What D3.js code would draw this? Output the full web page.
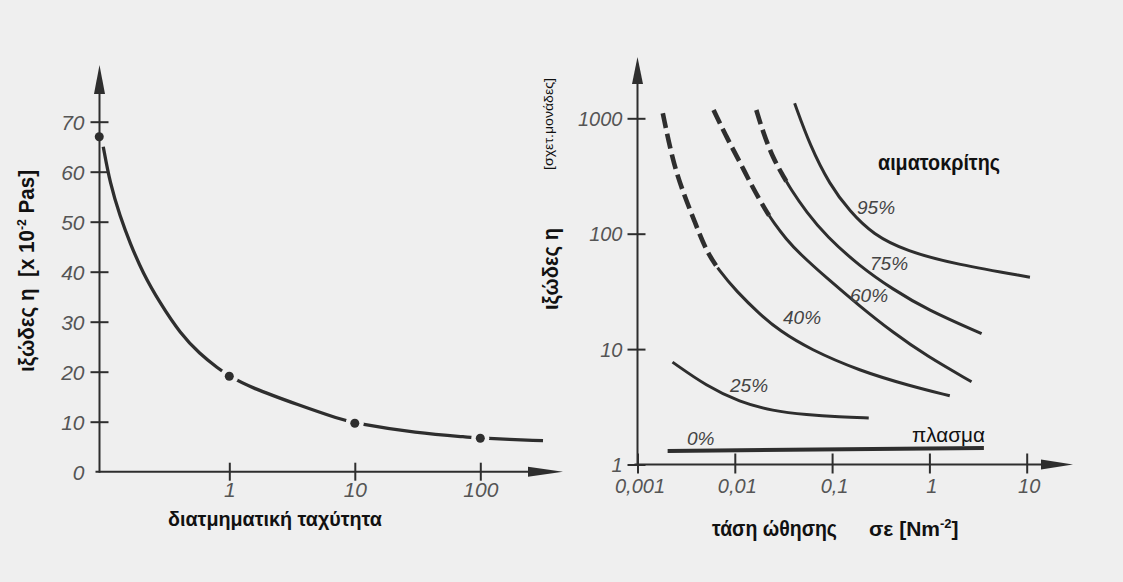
<!DOCTYPE html>
<html><head><meta charset="utf-8">
<script src="https://cdn.jsdelivr.net/npm/d3@7"></script>
<style>
body{margin:0;background:#efefef;}
svg{display:block;}
</style>
</head><body>
<svg id="c" width="1123" height="582"></svg>
<script>
// ---------------- DATA ----------------
// Left chart: viscosity vs shear rate
const leftXTicks = [1, 10, 100];
const leftYTicks = [0, 10, 20, 30, 40, 50, 60, 70];
const leftCurve = [[0.099,65.0],[0.112,57.7],[0.135,51.0],[0.162,45.7],[0.205,39.7],[0.281,33.7],[0.405,27.7],[0.584,23.5],[0.813,20.7],[1,19.1],[1.46,16.9],[3.6,13.3],[7.6,10.5],[10,9.7],[31,7.7],[83,6.9],[100,6.7],[316,6.2]];
const leftDots = [[0.092,67.0],[1,19.1],[10,9.7],[100,6.7]];

// Right chart: viscosity vs shear stress for several hematocrit values
const rightXTicks = [0.001, 0.01, 0.1, 1, 10];
const rightXLabels = ["0,001", "0,01", "0,1", "1", "10"];
const rightYTicks = [1, 10, 100, 1000];
const h0  = [[0.00204,1.31],[3.63,1.39]];
const h25 = [[0.00229,7.71],[0.00513,4.78],[0.0112,3.48],[0.0245,2.91],[0.0548,2.69],[0.120,2.58],[0.238,2.53]];
const h40 = [[0.00182,1104],[0.00231,422],[0.00292,232],[0.00386,128],[0.00509,70.5],[0.00698,47.3],[0.01036,31.8],[0.0180,20.1],[0.0289,14.4],[0.0589,9.98],[0.192,6.48],[0.628,4.81],[1.62,3.94]];
const h60 = [[0.00605,1180],[0.00818,693],[0.0112,422],[0.01535,249],[0.0211,156],[0.0249,126],[0.0336,90],[0.0468,66.7],[0.0880,41.3],[0.192,23.6],[0.423,13.9],[0.934,8.73],[2.71,5.21]];
const h75 = [[0.01664,1180],[0.01945,766],[0.0247,451],[0.0315,316],[0.0369,249],[0.0544,154],[0.0874,95],[0.192,52.3],[0.423,32.9],[0.934,22.1],[3.44,13.6]];
const h95 = [[0.0412,1348],[0.0589,588],[0.0945,265],[0.152,156],[0.264,98.2],[0.581,70.5],[1.90,54.1],[10.8,42.0]];
const dashEnds = {h40: 0.00665, h60: 0.0225, h75: 0.0338};
const curveLabels = ["95%", "75%", "60%", "40%", "25%", "0%"];

// ---------------- DRAW ----------------
const svg = d3.select("#c");
const INK = "#2e2e2e";
const TICK_TXT = "#555";
const FONT = "'Liberation Sans', Arial, sans-serif";

svg.append("rect").attr("width",1123).attr("height",582).attr("fill","#efefef");

// ===== LEFT CHART =====
const xL = d3.scaleLog().domain([1,100]).range([229.3,480.3]);
const yL = d3.scaleLinear().domain([0,70]).range([471.7,121.7]);
const axL = 99.5;
const gL = svg.append("g");

gL.append("line").attr("x1",axL).attr("x2",axL).attr("y1",yL(0)+1).attr("y2",80)
  .attr("stroke",INK).attr("stroke-width",2);
gL.append("path").attr("d",`M${axL},65 L${axL-5.5},94 L${axL+5.5},94 Z`).attr("fill",INK);
gL.append("line").attr("x1",axL-4).attr("x2",545).attr("y1",yL(0)).attr("y2",yL(0))
  .attr("stroke",INK).attr("stroke-width",2);
gL.append("path").attr("d",`M563,${yL(0)} L528,${yL(0)-5} L528,${yL(0)+5} Z`).attr("fill",INK);

const yAxL = gL.append("g").attr("transform",`translate(${axL},0)`)
  .call(d3.axisLeft(yL).tickValues(leftYTicks).tickSize(9).tickPadding(6).tickFormat(d3.format("d")));
yAxL.select(".domain").remove();
yAxL.selectAll(".tick line").attr("x1",9).attr("stroke",INK).attr("stroke-width",2)
  .attr("opacity",d=>d===0?0:1);
yAxL.selectAll(".tick text").attr("font-family",FONT).attr("font-style","italic")
  .attr("font-size",21).attr("fill",TICK_TXT).attr("dy","0.35em");

const xAxL = gL.append("g").attr("transform",`translate(0,${yL(0)})`)
  .call(d3.axisBottom(xL).tickValues(leftXTicks).tickSize(9).tickFormat(d3.format("d")));
xAxL.select(".domain").remove();
xAxL.selectAll(".tick line").attr("y1",-9).attr("stroke",INK).attr("stroke-width",2);
xAxL.selectAll(".tick text").attr("font-family",FONT).attr("font-style","italic")
  .attr("font-size",21).attr("fill",TICK_TXT).attr("y",25).attr("dy",0);

const defs = svg.append("defs");
const mask = defs.append("mask").attr("id","dotGap").attr("maskUnits","userSpaceOnUse")
  .attr("x",0).attr("y",0).attr("width",1123).attr("height",582);
mask.append("rect").attr("width",1123).attr("height",582).attr("fill","white");
mask.selectAll("circle").data(leftDots).join("circle")
  .attr("cx",d=>xL(d[0])).attr("cy",d=>yL(d[1])).attr("r",9).attr("fill","black");

const lineL = d3.line().x(d=>xL(d[0])).y(d=>yL(d[1])).curve(d3.curveBasis);
gL.append("path").datum(leftCurve).attr("d",lineL).attr("fill","none")
  .attr("stroke",INK).attr("stroke-width",3.3).attr("stroke-linecap","butt")
  .attr("mask","url(#dotGap)");
gL.selectAll("circle.dot").data(leftDots).join("circle").attr("class","dot")
  .attr("cx",d=>xL(d[0])).attr("cy",d=>yL(d[1])).attr("r",4.5).attr("fill",INK);

const yLab = gL.append("text").attr("transform","translate(34,271) rotate(-90)")
  .attr("text-anchor","middle").attr("font-family",FONT).attr("font-weight","bold")
  .attr("font-size",22).attr("fill","#111")
  .attr("textLength",202).attr("lengthAdjust","spacingAndGlyphs");
yLab.append("tspan").text("ιξώδες η\u00a0\u00a0[x 10");
yLab.append("tspan").attr("dy",-8).attr("font-size",13).text("-2");
yLab.append("tspan").attr("dy",8).text(" Pas]");

gL.append("text").attr("x",168).attr("y",526).attr("font-family",FONT).attr("font-weight","bold")
  .attr("font-size",21).attr("fill","#111").attr("textLength",214).attr("lengthAdjust","spacingAndGlyphs")
  .text("διατμηματική ταχύτητα");

// ===== RIGHT CHART =====
const xR = d3.scaleLog().domain([0.001,10]).range([637.5,1026.7]);
const yR = d3.scaleLog().domain([1,1000]).range([464.5,118.3]);
const axR = xR(0.001);
const gR = svg.append("g");

gR.append("line").attr("x1",axR).attr("x2",axR).attr("y1",yR(1)+1).attr("y2",72)
  .attr("stroke",INK).attr("stroke-width",2);
gR.append("path").attr("d",`M${axR},57 L${axR-5.5},84 L${axR+5.5},84 Z`).attr("fill",INK);
gR.append("line").attr("x1",axR-3).attr("x2",1055).attr("y1",yR(1)).attr("y2",yR(1))
  .attr("stroke",INK).attr("stroke-width",2);
gR.append("path").attr("d",`M1073,${yR(1)} L1041,${yR(1)-5} L1041,${yR(1)+5} Z`).attr("fill",INK);

const yAxR = gR.append("g").attr("transform",`translate(${axR},0)`)
  .call(d3.axisLeft(yR).tickValues(rightYTicks).tickSize(10).tickPadding(5).tickFormat(d3.format("d")));
yAxR.select(".domain").remove();
yAxR.selectAll(".tick line").attr("x1",8).attr("stroke",INK).attr("stroke-width",2);
yAxR.selectAll(".tick text").attr("font-family",FONT).attr("font-style","italic")
  .attr("font-size",20).attr("fill",TICK_TXT).attr("dy","0.35em");

const xAxR = gR.append("g").attr("transform",`translate(0,${yR(1)})`)
  .call(d3.axisBottom(xR).tickValues(rightXTicks).tickSize(9).tickFormat((d,i)=>rightXLabels[i]));
xAxR.select(".domain").remove();
xAxR.selectAll(".tick line").attr("y1",-11).attr("stroke",INK).attr("stroke-width",2);
xAxR.selectAll(".tick text").attr("font-family",FONT).attr("font-style","italic")
  .attr("font-size",20).attr("fill",TICK_TXT).attr("y",28).attr("dy",0).attr("dx",2);

const lineR = d3.line().x(d=>xR(d[0])).y(d=>yR(d[1])).curve(d3.curveBasis);

function drawCurve(data, dashEndX){
  const full = gR.append("path").datum(data).attr("d",lineR).attr("fill","none")
    .attr("stroke",INK).attr("stroke-width",3).attr("stroke-linecap","butt");
  if (dashEndX === undefined) return;
  const node = full.node();
  const total = node.getTotalLength();
  const target = xR(dashEndX);
  let lo = 0, hi = total;
  for (let i=0;i<40;i++){ const m=(lo+hi)/2; if (node.getPointAtLength(m).x < target) lo=m; else hi=m; }
  const L1 = lo;
  full.attr("stroke-dasharray",`0 ${L1} ${total} 1`);
  const pat = [];
  let acc = 0;
  while (acc + 15 < L1) { pat.push(15, 6); acc += 21; }
  pat.push(Math.max(0, L1-acc), total + 10);
  gR.append("path").datum(data).attr("d",lineR).attr("fill","none")
    .attr("stroke",INK).attr("stroke-width",4.6).attr("stroke-linecap","butt")
    .attr("stroke-dasharray",pat.join(" "));
}
drawCurve(h25);
drawCurve(h40, dashEnds.h40);
drawCurve(h60, dashEnds.h60);
drawCurve(h75, dashEnds.h75);
drawCurve(h95);
gR.append("path").datum(h0).attr("d",d3.line().x(d=>xR(d[0])).y(d=>yR(d[1])))
  .attr("fill","none").attr("stroke",INK).attr("stroke-width",4);

const labelPos = [[857,214],[870,270],[850,302],[783,324],[730,392],[687,445]];
gR.selectAll("text.pct").data(curveLabels).join("text").attr("class","pct")
  .attr("x",(d,i)=>labelPos[i][0]).attr("y",(d,i)=>labelPos[i][1])
  .attr("font-family",FONT).attr("font-style","italic").attr("font-size",19)
  .attr("fill","#444").text(d=>d);

gR.append("text").attr("x",912).attr("y",442).attr("font-family",FONT).attr("font-size",20)
  .attr("fill","#111").attr("textLength",73).attr("lengthAdjust","spacingAndGlyphs").text("πλασμα");
gR.append("text").attr("x",878).attr("y",170).attr("font-family",FONT).attr("font-weight","bold")
  .attr("font-size",22).attr("fill","#111").attr("textLength",122).attr("lengthAdjust","spacingAndGlyphs")
  .text("αιματοκρίτης");

gR.append("text").attr("transform","translate(558,269) rotate(-90)").attr("text-anchor","middle")
  .attr("font-family",FONT).attr("font-weight","bold").attr("font-size",22).attr("fill","#111")
  .attr("textLength",82).attr("lengthAdjust","spacingAndGlyphs").text("ιξώδες η");
gR.append("text").attr("transform","translate(553,124) rotate(-90)").attr("text-anchor","middle")
  .attr("font-family",FONT).attr("font-size",12).attr("fill","#111")
  .attr("textLength",92).attr("lengthAdjust","spacingAndGlyphs").text("[σχετ.μονάδες]");

gR.append("text").attr("x",712).attr("y",536).attr("font-family",FONT).attr("font-weight","bold")
  .attr("font-size",22).attr("fill","#111").attr("textLength",125).attr("lengthAdjust","spacingAndGlyphs")
  .text("τάση ώθησης");
const se = gR.append("text").attr("x",869).attr("y",536).attr("font-family",FONT).attr("font-weight","bold")
  .attr("font-size",21).attr("fill","#111");
se.append("tspan").text("σε [Nm");
se.append("tspan").attr("dy",-8).attr("font-size",13).text("-2");
se.append("tspan").attr("dy",8).text("]");
</script>
</body></html>
